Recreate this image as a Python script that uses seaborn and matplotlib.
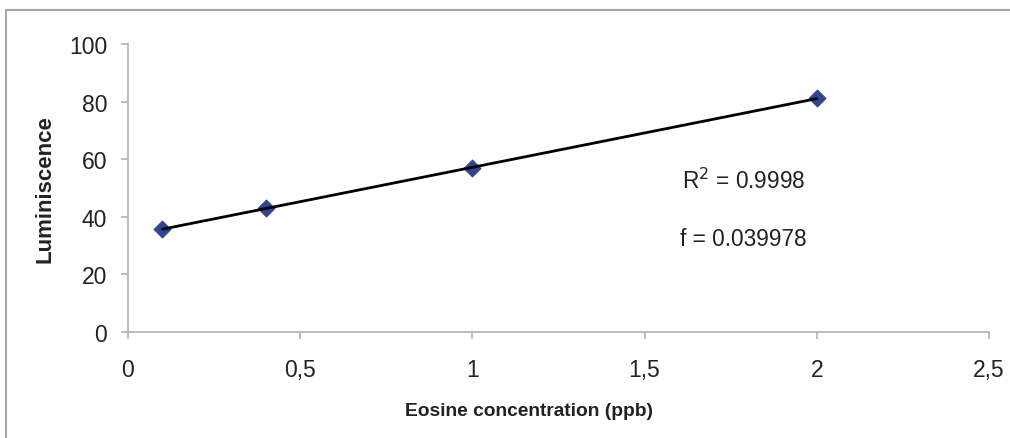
import numpy as np
import pandas as pd
import matplotlib
matplotlib.use("Agg")
import matplotlib.pyplot as plt
import seaborn as sns
from matplotlib.lines import Line2D

# data
concentration = [0.1, 0.4, 1.0, 2.0]
luminescence = [35.8, 43.0, 56.8, 81.2]
x_ticks = [0, 0.5, 1, 1.5, 2, 2.5]
x_tick_labels = ["0", "0,5", "1", "1,5", "2", "2,5"]
y_ticks = [0, 20, 40, 60, 80, 100]
r2_text = "R$^2$ = 0.9998"
f_text = "f = 0.039978"

df = pd.DataFrame({"conc": concentration, "lum": luminescence})

sns.set_style("white")
plt.rcParams["font.family"] = ["Liberation Sans", "DejaVu Sans"]

fig = plt.figure(figsize=(10.10, 4.39), dpi=100)
ax = fig.add_axes([128 / 1010, 1 - 333 / 439, (989 - 128) / 1010, (333 - 45) / 439])

# linear trendline over data range
slope, intercept = np.polyfit(df["conc"], df["lum"], 1)
xs = np.array([df["conc"].min(), df["conc"].max()])
sns.lineplot(x=xs, y=slope * xs + intercept, ax=ax, color="black", lw=2, zorder=3)

sns.scatterplot(data=df, x="conc", y="lum", ax=ax, marker="D", s=75,
                color="#2f4592", edgecolor="#2f4592", zorder=2)

ax.set_xlim(0, 2.5)
ax.set_ylim(0, 100)
ax.set_xticks(x_ticks)
ax.set_xticklabels(x_tick_labels)
ax.set_yticks(y_ticks)

for side in ["top", "right"]:
    ax.spines[side].set_visible(False)
for side in ["left", "bottom"]:
    ax.spines[side].set_color("#b0b0b0")
    ax.spines[side].set_linewidth(1.2)

ax.tick_params(axis="both", which="major", labelsize=16.5, length=5, width=1.2,
               color="#b0b0b0", labelcolor="#222222", direction="out",
               bottom=True, left=True)
ax.tick_params(axis="x", pad=14)
ax.tick_params(axis="y", pad=10)

ax.set_xlabel("Eosine concentration (ppb)", fontsize=13.8, fontweight="bold",
              color="#222222")
ax.xaxis.set_label_coords(0.466, -0.242)
ax.set_ylabel("Luminiscence", fontsize=16, fontweight="bold",
              color="#222222", labelpad=10)

ax.text(1.789, 52.8, r2_text, fontsize=16.3, color="#222222", ha="center", va="center")
ax.text(1.786, 32.3, f_text, fontsize=16.3, color="#222222", ha="center", va="center")

# outer chart border (cropped on the right and bottom)
fig.add_artist(Line2D([6 / 1010, 1.0], [1 - 11 / 439, 1 - 11 / 439],
                      transform=fig.transFigure, color="#a8a8a8", lw=1.5))
fig.add_artist(Line2D([6 / 1010, 6 / 1010], [0.0, 1 - 11 / 439],
                      transform=fig.transFigure, color="#a8a8a8", lw=1.5))

fig.savefig("out.png", dpi=100)
